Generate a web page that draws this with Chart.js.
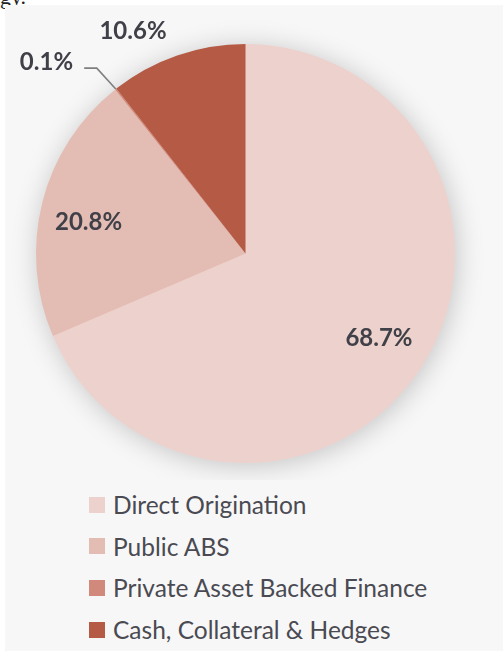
<!DOCTYPE html>
<html>
<head>
<meta charset="utf-8">
<script src="https://cdn.jsdelivr.net/npm/chart.js@4.4.1/dist/chart.umd.min.js"></script>
<style>
  html, body { margin: 0; padding: 0; background: #ffffff; }
  body { width: 503px; height: 651px; position: relative; overflow: hidden; font-family: Lato, "Open Sans", sans-serif; }
  #prev { position: absolute; left: 0; top: -16px; font-family: "Liberation Serif", serif; font-size: 22px; color: #222; }
  #panel { position: absolute; left: 5px; top: 5px; width: 498px; height: 646px; background: #f7f7f7; }
  #wrap { position: absolute; left: 0; top: 0; width: 503px; height: 480px; }
  #legend { position: absolute; left: 89px; top: 484px; margin: 0; padding: 0; list-style: none; }
  #legend li { display: flex; align-items: center; height: 41.6px; font-size: 24.5px; color: #4a4a52; white-space: nowrap; }
  #legend li span.box { display: inline-block; width: 16px; height: 16px; margin-right: 8px; }
</style>
</head>
<body>
<div id="prev">gy.</div>
<div id="panel"></div>
<div id="wrap"><canvas id="c"></canvas></div>
<ul id="legend"></ul>
<script>
const categories = ["Direct Origination", "Public ABS", "Private Asset Backed Finance", "Cash, Collateral & Hedges"];
const shares = [68.7, 20.8, 0.1, 10.6];
const sliceColors = ["#edd1cc", "#e3bcb3", "#d0897b", "#b45a45"];

// label placement (style only): offsets in radius units from the pie centre.
const labelPlacement = [
  { type: "offset", text: [0.637, 0.405] },
  { type: "offset", text: [-0.749, -0.150] },
  { type: "leader", text: [-0.95, -0.915], elbow: [-0.71, -0.885], end: [-0.77, -0.885] },
  { type: "offset", text: [-0.537, -1.062] }
];

const shadowPlugin = {
  id: "pieShadow",
  beforeDatasetsDraw(chart) {
    const arc = chart.getDatasetMeta(0).data[0];
    if (!arc) return;
    const { x, y, outerRadius } = arc.getProps(["x", "y", "outerRadius"], true);
    const ctx = chart.ctx;
    ctx.save();
    ctx.shadowColor = "rgba(0,0,0,0.22)";
    ctx.shadowBlur = 28;
    ctx.shadowOffsetX = 2;
    ctx.shadowOffsetY = 3;
    ctx.beginPath();
    ctx.arc(x, y, outerRadius - 1, 0, Math.PI * 2);
    ctx.fillStyle = sliceColors[0];
    ctx.fill();
    ctx.restore();
  }
};

const labelPlugin = {
  id: "sliceLabels",
  afterDatasetsDraw(chart) {
    const ctx = chart.ctx;
    const meta = chart.getDatasetMeta(0);
    const data = chart.data.datasets[0].data;
    ctx.save();
    ctx.font = "bold 24px Lato, 'Open Sans', sans-serif";
    ctx.fillStyle = "#404048";
    ctx.textAlign = "center";
    ctx.textBaseline = "middle";
    meta.data.forEach((arc, i) => {
      const { x, y, startAngle, endAngle, outerRadius: r } =
        arc.getProps(["x", "y", "startAngle", "endAngle", "outerRadius"], true);
      const mid = (startAngle + endAngle) / 2;
      const p = labelPlacement[i];
      const txt = data[i].toFixed(1) + "%";
      const tx = x + p.text[0] * r;
      const ty = y + p.text[1] * r;
      if (p.type === "leader") {
        const ex = x + Math.cos(mid) * r, ey = y + Math.sin(mid) * r;
        ctx.save();
        ctx.strokeStyle = "#7f7f7f";
        ctx.lineWidth = 1.6;
        ctx.beginPath();
        ctx.moveTo(ex, ey);
        ctx.lineTo(x + p.elbow[0] * r, y + p.elbow[1] * r);
        ctx.lineTo(x + p.end[0] * r, y + p.end[1] * r);
        ctx.stroke();
        ctx.restore();
      }
      ctx.fillText(txt, tx, ty);
    });
    ctx.restore();
  }
};

const chart = new Chart(document.getElementById("c"), {
  type: "pie",
  data: {
    labels: categories,
    datasets: [{
      data: shares,
      backgroundColor: sliceColors,
      borderWidth: 0
    }]
  },
  options: {
    responsive: true,
    maintainAspectRatio: false,
    animation: false,
    layout: { padding: { left: 36, right: 48, top: 44, bottom: 17 } },
    plugins: {
      legend: { display: false },
      tooltip: { enabled: false }
    }
  },
  plugins: [shadowPlugin, labelPlugin]
});

const items = chart.options.plugins.legend.labels.generateLabels(chart);
const ul = document.getElementById("legend");
items.forEach(it => {
  const li = document.createElement("li");
  const box = document.createElement("span");
  box.className = "box";
  box.style.background = it.fillStyle;
  li.appendChild(box);
  li.appendChild(document.createTextNode(it.text));
  ul.appendChild(li);
});
</script>
</body>
</html>
